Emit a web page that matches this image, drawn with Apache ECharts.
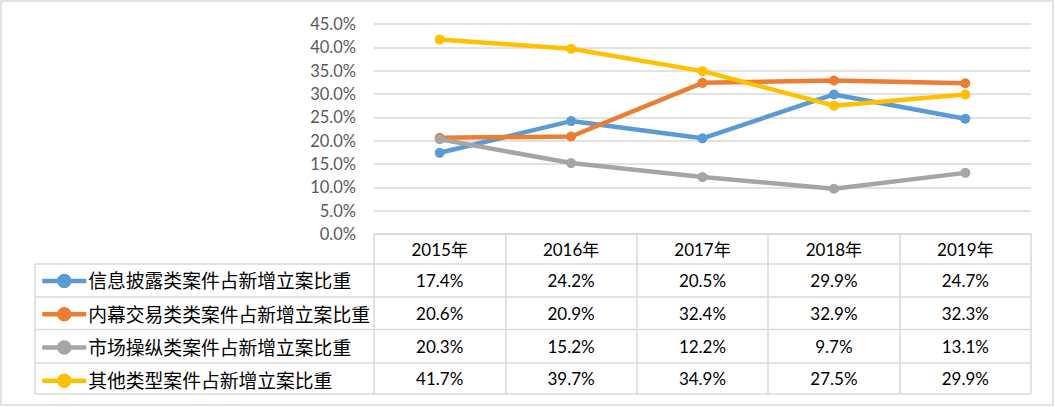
<!DOCTYPE html>
<html><head><meta charset="utf-8">
<script src="https://cdn.jsdelivr.net/npm/echarts@6/dist/echarts.min.js"></script>
<style>html,body{margin:0;padding:0;background:#fff}#c{width:1055px;height:407px}</style>
</head><body><div id="c"></div>
<script>
const categories = ['2015年','2016年','2017年','2018年','2019年'];
const seriesNames = ['信息披露类案件占新增立案比重','内幕交易类类案件占新增立案比重','市场操纵类案件占新增立案比重','其他类型案件占新增立案比重'];
const infoDisclosure = [17.4, 24.2, 20.5, 29.9, 24.7];
const insiderTrading = [20.6, 20.9, 32.4, 32.9, 32.3];
const marketManip = [20.3, 15.2, 12.2, 9.7, 13.1];
const otherTypes = [41.7, 39.7, 34.9, 27.5, 29.9];
const colors = ['#5B9BD5','#ED7D31','#A5A5A5','#FFC000'];
const allData = [infoDisclosure, insiderTrading, marketManip, otherTypes];

const FONT = "Lato, 'Noto Sans CJK SC', sans-serif";
const GRID_LEFT = 374, GRID_RIGHT_X = 1031, AXIS_Y = 234;
const rowEdges = [264, 297, 329.5, 363, 394];
const TABLE_LEFT = 35;
const lineCol = '#d9d9d9';

const chart = echarts.init(document.getElementById('c'), null, {renderer:'svg'});
const option = {
  animation:false,
  color: colors,
  grid:{left:GRID_LEFT, right:1055-GRID_RIGHT_X, top:24, bottom:407-AXIS_Y, containLabel:false},
  legend:{
    orient:'vertical', left:40, top:271.5, padding:0, itemGap:14.5,
    itemWidth:44, itemHeight:18,
    lineStyle:{width:4.5},
    textStyle:{fontSize:18.8, lineHeight:18, color:'#000', fontFamily:FONT, padding:[0,0,0,-3]},
    data: seriesNames
  },
  xAxis:{
    type:'category', data:categories, boundaryGap:true,
    axisLine:{lineStyle:{color:lineCol, width:1.5}},
    axisTick:{show:true, length:rowEdges[rowEdges.length-1]-AXIS_Y, interval:0, lineStyle:{color:lineCol, width:1.5}},
    axisLabel:{fontSize:17, color:'#000', margin:7, fontFamily:FONT, interval:0}
  },
  yAxis:{
    type:'value', min:0, max:45, interval:5,
    axisLine:{show:false}, axisTick:{show:false},
    splitLine:{lineStyle:{color:lineCol, width:1.5}},
    axisLabel:{fontSize:16.5, color:'#595959', margin:18, fontFamily:FONT, formatter:v=>v.toFixed(1)+'%'}
  },
  series: seriesNames.map((n,i)=>({
    name:n, type:'line', data:allData[i], symbol:'circle', symbolSize:10,
    lineStyle:{width:4.5, color:colors[i]}, itemStyle:{color:colors[i]}
  }))
};
chart.setOption(option);

const graphics = [];
graphics.push({type:'rect', shape:{x:1,y:1,width:1052,height:404}, style:{fill:'none', stroke:lineCol, lineWidth:1.5}, silent:true});
rowEdges.forEach(y=>{
  graphics.push({type:'line', shape:{x1:TABLE_LEFT,y1:y,x2:GRID_RIGHT_X,y2:y}, style:{stroke:lineCol, lineWidth:1.5}, silent:true});
});
graphics.push({type:'line', shape:{x1:TABLE_LEFT,y1:rowEdges[0],x2:TABLE_LEFT,y2:rowEdges[rowEdges.length-1]}, style:{stroke:lineCol, lineWidth:1.5}, silent:true});
allData.forEach((arr,r)=>{
  const yc = (rowEdges[r]+rowEdges[r+1])/2;
  arr.forEach((v,c)=>{
    const xc = chart.convertToPixel({xAxisIndex:0}, categories[c]);
    graphics.push({type:'text', x:xc, y:yc, style:{text:v.toFixed(1)+'%', fontSize:17, fill:'#000', fontFamily:FONT, align:'center', verticalAlign:'middle'}, silent:true});
  });
});
chart.setOption({graphic:graphics});
</script></body></html>
